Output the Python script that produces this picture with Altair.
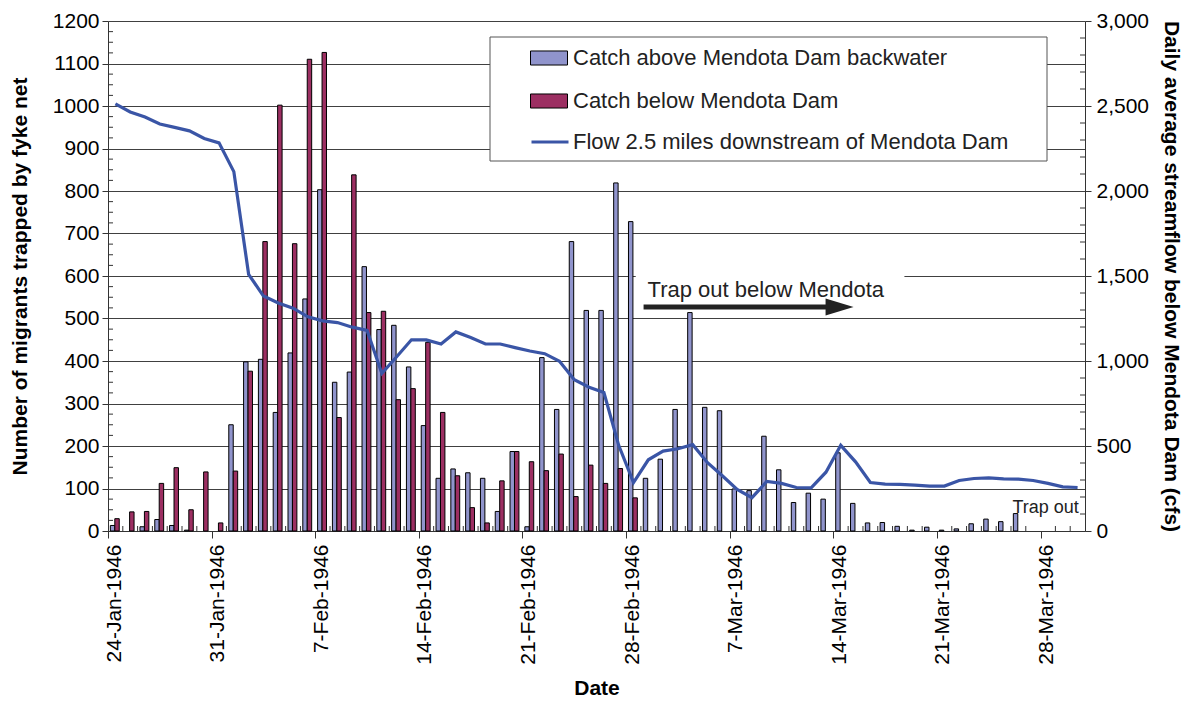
import altair as alt
import pandas as pd

FONT = "Liberation Sans"
W, H = 977, 510

START = "1946-01-24"
LAB_A = "Catch above Mendota Dam backwater"
LAB_B = "Catch below Mendota Dam"
LAB_F = "Flow 2.5 miles downstream of Mendota Dam"

# daily catch, day 0 = 24-Jan-1946 (None = no bar)
above = [13, None, 10, 27, 13, 2, None, None, 250, 398,
         404, 279, 419, 546, 803, 350, 374, 622, 474, 484,
         386, 248, 124, 146, 137, 124, 46, 187, 10, 408,
         286, 681, 519, 519, 819, 728, 124, 169, 286, 514,
         291, 283, 99, 95, 223, 144, 67, 89, 75, 184,
         65, 19, 20, 11, 2, 9, 2, 5, 17, 28,
         22, 41, None, None, None, None]
below = [29, 45, 46, 112, 149, 50, 139, 19, 141, 376,
         681, 1002, 676, 1110, 1126, 267, 838, 514, 517, 309,
         335, 444, 279, 130, 55, 19, 118, 187, 163, 142,
         181, 81, 155, 112, 147, 78] + [None] * 30
flow = [2512, 2465, 2435, 2394, 2374, 2354, 2309, 2283, 2114, 1510,
        1382, 1341, 1311, 1260, 1236, 1226, 1199, 1180, 927, 1025,
        1125, 1124, 1100, 1171, 1138, 1100, 1100, 1079, 1059, 1043,
        998, 890, 846, 815, 504, 285, 419, 470, 484, 508,
        402, 325, 244, 196, 291, 280, 256, 254, 346, 504,
        407, 285, 276, 274, 270, 264, 264, 297, 309, 313,
        307, 305, 297, 280, 260, 256]
tick_dates = [(1, 24), (1, 31), (2, 7), (2, 14), (2, 21), (2, 28),
              (3, 7), (3, 14), (3, 21), (3, 28)]

days = pd.date_range(START, periods=len(flow), freq="D")


def iso(ts):
    return ts.strftime("%Y-%m-%dT%H:%M:%S")


def off(d, frac):
    return iso(d + pd.Timedelta(minutes=round(frac * 1440)))


bar_rows = []
for d, a, b in zip(days, above, below):
    if a is not None:
        bar_rows.append({"series": LAB_A, "t0": off(d, 0.16), "t1": off(d, 0.46), "v": a, "b": 0})
    if b is not None:
        bar_rows.append({"series": LAB_B, "t0": off(d, 0.46), "t1": off(d, 0.76), "v": b, "b": 0})
bars_df = pd.DataFrame(bar_rows)

line_df = pd.DataFrame({"t": [off(d, 0.5) for d in days], "v2": flow,
                        "series": [LAB_F] * len(flow)})

x_dom = [alt.DateTime(year=1946, month=1, date=24), alt.DateTime(year=1946, month=3, date=31)]
x_scale = alt.Scale(domain=x_dom, nice=False)
yl_scale = alt.Scale(domain=[0, 1200], nice=False)
yr_scale = alt.Scale(domain=[0, 3000], nice=False)

x_axis = alt.Axis(
    values=[alt.DateTime(year=1946, month=m, date=d) for m, d in tick_dates],
    format="%-d-%b-%Y", labelAngle=270, labelFont=FONT, labelFontSize=21,
    labelColor="black", labelPadding=6, labelOffset=6, labelOverlap=False,
    tickSize=7, tickColor="#333", domainColor="#333", grid=False,
    title="Date", titleFont=FONT, titleFontSize=21, titleFontWeight="bold",
    titleColor="black", titleY=157, titleBaseline="middle")

yl_axis = alt.Axis(
    values=list(range(0, 1201, 100)), format="d", labelFont=FONT, labelFontSize=21,
    labelColor="black", labelPadding=3, tickSize=6, tickColor="#333",
    domainColor="#333", grid=True, gridColor="#404040", gridWidth=1,
    title="Number of migrants trapped by fyke net", titleFont=FONT,
    titleFontSize=21, titleFontWeight="bold", titleColor="black",
    titleAngle=270, titleX=-88, titleY=H / 2, titleBaseline="middle",
    titleAlign="center")

yr_axis = alt.Axis(
    orient="right", values=list(range(0, 3001, 500)), format=",.0f",
    labelFont=FONT, labelFontSize=21, labelColor="black", labelPadding=5,
    tickSize=6, tickColor="#333", domainColor="#333", grid=False,
    title="Daily average streamflow below Mendota Dam (cfs)", titleFont=FONT,
    titleFontSize=21, titleFontWeight="bold", titleColor="black",
    titleAngle=90, titleX=85, titleY=H / 2, titleBaseline="middle",
    titleAlign="center")


def X(f):
    return alt.X(f, type="temporal", scale=x_scale, axis=x_axis)


def YL(f):
    return alt.Y(f, type="quantitative", scale=yl_scale, axis=yl_axis)


def YR(f):
    return alt.Y(f, type="quantitative", scale=yr_scale, axis=yr_axis)


# white box behind the "Trap out below Mendota" note
note_box_df = pd.DataFrame({"t0": [off(days[35], 0.65)], "t1": [off(days[53], 0.8)],
                            "v0": [545], "v1": [620]})
note_box = alt.Chart(note_box_df).mark_rect(fill="white").encode(
    x=X("t0"), x2="t1", y=YL("v0"), y2="v1")

bars = alt.Chart(bars_df).mark_bar(stroke="black", strokeWidth=1, opacity=1).encode(
    x=X("t0"),
    x2="t1",
    y=YL("v"),
    y2="b",
    fill=alt.Fill("series:N",
                  scale=alt.Scale(domain=[LAB_A, LAB_B], range=["#9094cc", "#9c2f62"]),
                  legend=alt.Legend(title=None, orient="none", legendX=422, legendY=18,
                                    direction="vertical", labelFont=FONT, labelFontSize=22,
                                    labelColor="#222", symbolType="M-1,-0.38H1V0.38H-1Z",
                                    symbolSize=1369, symbolStrokeColor="black",
                                    symbolStrokeWidth=1, symbolOpacity=1, rowPadding=13,
                                    labelOffset=5, padding=0, labelLimit=700)))

# arrow + notes
arrow_df = pd.DataFrame({"t0": [off(days[36], 0.18)], "t1": [off(days[48], 0.75)], "v": [527]})
arrow = alt.Chart(arrow_df).mark_rule(strokeWidth=5, color="#222").encode(
    x=X("t0"), x2="t1", y=YL("v"))
head_df = pd.DataFrame({"t": [off(days[49], 0.42)], "v": [527]})
head = alt.Chart(head_df).mark_point(shape="M-1,-0.6L1,0L-1,0.6Z", filled=True, color="#222",
                                     opacity=1, size=784).encode(x=X("t"), y=YL("v"))
notes_df = pd.DataFrame({"t": [off(days[36], 0.45), off(days[61], 0.1)],
                         "v": [551, 42],
                         "label": ["Trap out below Mendota", "Trap out"]})
note1 = alt.Chart(notes_df.iloc[[0]]).mark_text(align="left", baseline="alphabetic", font=FONT,
                                                 fontSize=22, color="#222").encode(
    x=X("t"), y=YL("v"), text="label:N")
note2 = alt.Chart(notes_df.iloc[[1]]).mark_text(align="left", baseline="alphabetic", font=FONT,
                                                 fontSize=18, color="#222").encode(
    x=X("t"), y=YL("v"), text="label:N")

# minor ticks
minor_x_df = pd.DataFrame({"t": [iso(days[0] + pd.Timedelta(days=k)) for k in range(1, 66) if k % 7]})
minor_x = alt.Chart(minor_x_df).mark_rule(color="#333", strokeWidth=1).encode(
    x=X("t"), y=alt.value(H), y2=alt.value(H - 5))
minor_yl_df = pd.DataFrame({"v": [v for v in range(25, 1200, 25) if v % 100]})
minor_yl = alt.Chart(minor_yl_df).mark_rule(color="#333", strokeWidth=1).encode(
    y=YL("v"), x=alt.value(0), x2=alt.value(5))

# legend frame
frame = alt.Chart(pd.DataFrame({"a": [0]})).mark_rect(
    fill="white", stroke="#555", strokeWidth=1).encode(
    x=alt.value(382), x2=alt.value(939), y=alt.value(16), y2=alt.value(140))

left_group = alt.layer(note_box, bars, arrow, head, note1, note2, minor_x, minor_yl, frame)

line = alt.Chart(line_df).mark_line(strokeWidth=3.2, interpolate="linear").encode(
    x=X("t"),
    y=YR("v2"),
    stroke=alt.Stroke("series:N", scale=alt.Scale(domain=[LAB_F], range=["#3a55a6"]),
                      legend=alt.Legend(title=None, orient="none", legendX=422, legendY=101,
                                        labelFont=FONT, labelFontSize=22, labelColor="#222",
                                        symbolType="stroke", symbolSize=1369,
                                        symbolStrokeWidth=3, labelOffset=3, padding=0,
                                        labelLimit=700)))
minor_yr_df = pd.DataFrame({"v2": [v for v in range(100, 3000, 100) if v % 500]})
minor_yr = alt.Chart(minor_yr_df).mark_rule(color="#333", strokeWidth=1).encode(
    y=YR("v2"), x=alt.value(W - 5), x2=alt.value(W))

right_group = alt.layer(line, minor_yr)

chart = alt.layer(left_group, right_group).resolve_scale(y="independent").properties(
    width=W, height=H,
    autosize=alt.AutoSizeParams(type="none"),
    padding={"left": 100, "top": 13, "right": 98, "bottom": 168},
    background="white",
).configure_view(stroke=None)

chart.save("out.html", embed_options={"renderer": "svg", "actions": False})
